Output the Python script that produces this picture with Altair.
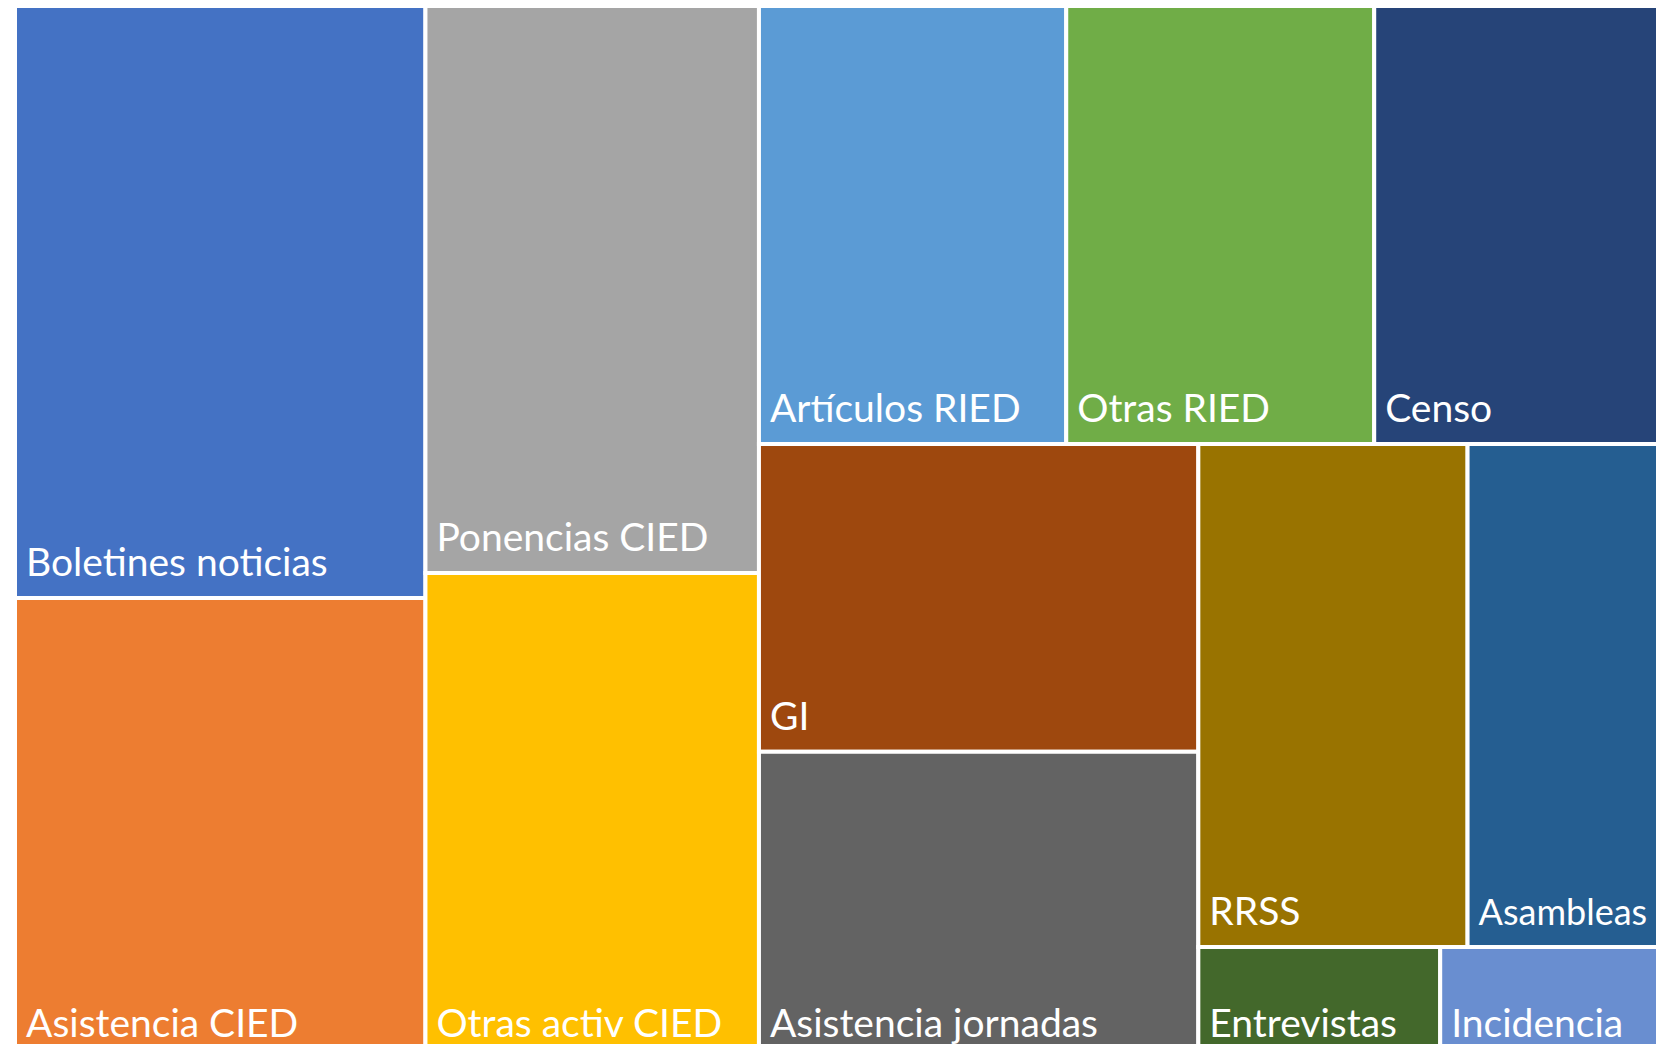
import altair as alt
import pandas as pd

# Categories, in Office palette order (also layout order)
names = [
    "Boletines noticias", "Asistencia CIED", "Ponencias CIED", "Otras activ CIED",
    "Artículos RIED", "Otras RIED", "Censo", "GI", "Asistencia jornadas",
    "RRSS", "Asambleas", "Entrevistas", "Incidencia",
]
# Relative sizes (areas of the tiles)
values = [243.4, 189.2, 189.4, 162.1, 134.9, 135.2, 128.1, 135.2, 135.0, 135.4, 99.8, 27.1, 25.3]
colors = [
    "#4472C4", "#ED7D31", "#A5A5A5", "#FFC000", "#5B9BD5", "#70AD47", "#264478",
    "#9E480E", "#636363", "#997300", "#255E91", "#43682B", "#698ED0",
]
# Strips of the treemap: (item indices, direction)
groups = [([0, 1], "col"), ([2, 3], "col"), ([4, 5, 6], "row"),
          ([7, 8], "col"), ([9, 10], "row"), ([11, 12], "row")]

W, H = 1648, 1036          # visible plot area
RX0, RY0, RW, RH = 7, -3, 1651, 1054   # full treemap extent (partly cropped)

total = sum(values)
scale_k = RW * RH / total
rows = []
cx, cy, cw, ch = RX0, RY0, RW, RH
for idx, direction in groups:
    gsum = sum(values[i] for i in idx) * scale_k
    if direction == "col":
        sw = gsum / ch
        yy = cy
        for i in idx:
            h = values[i] * scale_k / sw
            rows.append(dict(name=names[i], x0=cx, x1=cx + sw, y0=yy, y1=yy + h))
            yy += h
        cx += sw
        cw -= sw
    else:
        sh = gsum / cw
        xx = cx
        for i in idx:
            w = values[i] * scale_k / sh
            rows.append(dict(name=names[i], x0=xx, x1=xx + w, y0=cy, y1=cy + sh))
            xx += w
        cy += sh
        ch -= sh

df = pd.DataFrame(rows)

xs = alt.Scale(domain=[0, W], nice=False, zero=False)
ys = alt.Scale(domain=[0, H], nice=False, zero=False, reverse=True)

base = alt.Chart(df)
rects = base.mark_rect(stroke="white", strokeWidth=4, clip=True).encode(
    x=alt.X("x0:Q", scale=xs, axis=None),
    x2="x1:Q",
    y=alt.Y("y0:Q", scale=ys, axis=None),
    y2="y1:Q",
    color=alt.Color("name:N", scale=alt.Scale(domain=names, range=colors), legend=None),
)
labels = base.mark_text(
    align="left", baseline="alphabetic", dx=11, dy=-22,
    font="Lato", color="white", clip=True,
).encode(
    x=alt.X("x0:Q", scale=xs, axis=None),
    y=alt.Y("y1:Q", scale=ys, axis=None),
    text="name:N",
    size=alt.condition(alt.datum.name == "Asambleas", alt.value(36), alt.value(39)),
)

chart = (rects + labels).properties(
    width=W, height=H, padding=0, autosize=alt.AutoSizeParams(type="none"),
    background="white",
).configure_view(stroke=None)

chart.save("out.html", embed_options={"renderer": "svg", "actions": False})
